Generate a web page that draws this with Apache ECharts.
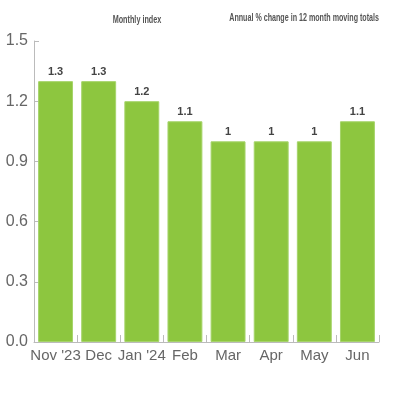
<!DOCTYPE html>
<html><head><meta charset="utf-8">
<script src="https://cdn.jsdelivr.net/npm/echarts@6/dist/echarts.min.js"></script>
<style>html,body{margin:0;padding:0;background:#fff}#c{width:400px;height:400px}</style>
</head><body><div id="c"></div>
<script>
const categories = ["Nov '23","Dec","Jan '24","Feb","Mar","Apr","May","Jun"];
const values = [1.3,1.3,1.2,1.1,1,1,1,1.1];
const yTicks = [0,0.3,0.6,0.9,1.2,1.5];
const titleLeft = "Monthly index";
const titleRight = "Annual % change in 12 month moving totals";

const chart = echarts.init(document.getElementById('c'));
const tStyle = {fontSize:11.5,fontWeight:'bold',fontFamily:'Liberation Sans, Arial, sans-serif',fill:'#555',verticalAlign:'middle'};
chart.setOption({
  animation:false,
  graphic:[
    {type:'text',x:137,y:20,scaleX:0.63,style:Object.assign({text:titleLeft,align:'center'},tStyle)},
    {type:'text',x:379,y:18,scaleX:0.62,style:Object.assign({text:titleRight,align:'right'},tStyle)}
  ],
  grid:{left:34,right:21,top:41,bottom:58,containLabel:false},
  xAxis:{type:'category',data:categories,
    axisLine:{lineStyle:{color:'#bbb',width:1}},
    axisTick:{show:true,inside:true,length:7,lineStyle:{color:'#bbb'}},
    axisLabel:{color:'#666',fontSize:15,fontFamily:'Liberation Sans, Arial, sans-serif',margin:6,interval:0}
  },
  yAxis:{type:'value',min:yTicks[0],max:yTicks[yTicks.length-1],interval:0.3,
    axisLine:{show:true,lineStyle:{color:'#bbb',width:1}},
    axisTick:{show:true,inside:true,length:5,lineStyle:{color:'#bbb'}},
    splitLine:{show:false},
    axisLabel:{color:'#666',fontSize:16,fontFamily:'Liberation Sans, Arial, sans-serif',margin:6,formatter:v=>v.toFixed(1)}
  },
  series:[{type:'bar',data:values,barCategoryGap:'19%',
    itemStyle:{color:'#8dc63f',borderColor:'#a6d46a',borderWidth:1},
    label:{show:true,position:'top',distance:4,color:'#444',fontWeight:'bold',fontSize:11,fontFamily:'Liberation Sans, Arial, sans-serif'}
  }]
});
</script></body></html>
